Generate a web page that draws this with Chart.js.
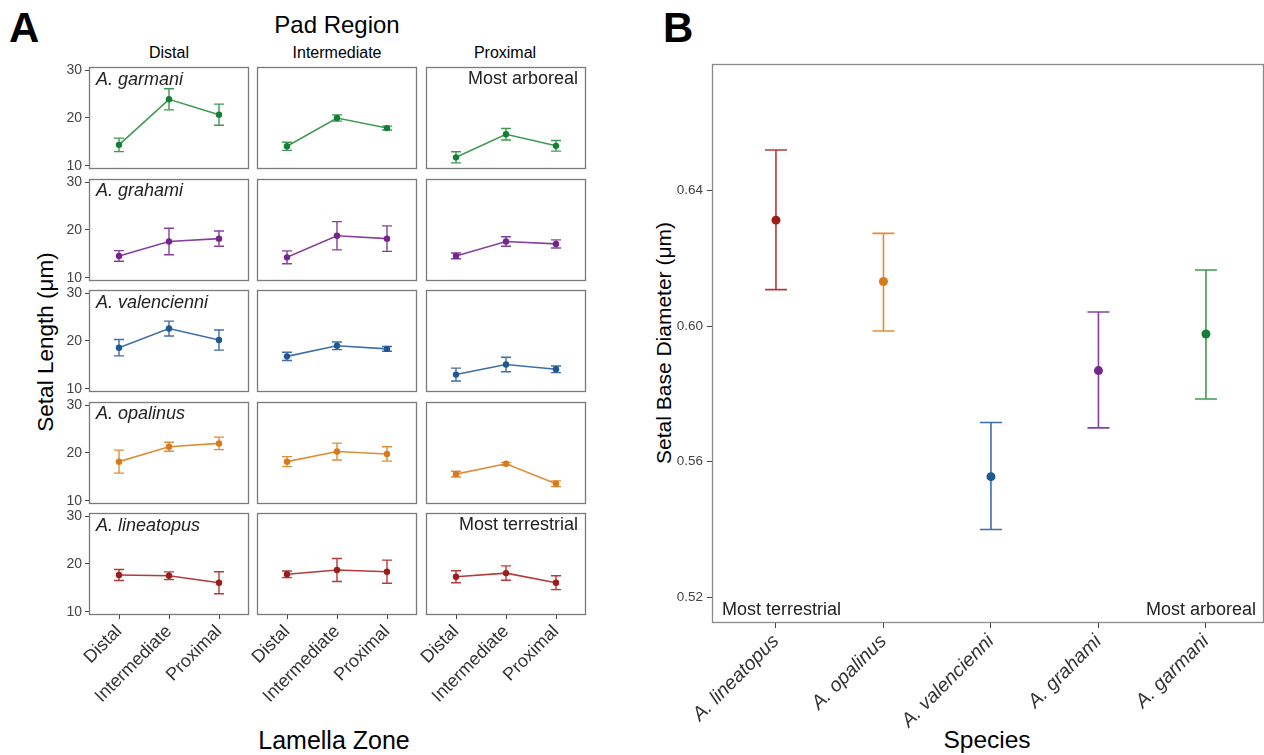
<!DOCTYPE html>
<html lang="en">
<head>
<meta charset="UTF-8">
<title>Setal length and setal base diameter</title>
<script src="https://cdn.jsdelivr.net/npm/chart.js"></script>
<style>
    body { margin: 0; width: 1264px; height: 755px; position: relative; overflow: hidden; background: #fff;
           font-family: "Liberation Sans", Arial, sans-serif; }
    canvas { position: absolute; }
    .txt { position: absolute; white-space: nowrap; line-height: 1; color: #000; }
    .c { transform: translate(-50%, -50%); }
    .v { transform: translate(-50%, -50%) rotate(-90deg); }
</style>
</head>
<body>

<div class="txt" style="left:9px; top:7px; font-size:42px; font-weight:bold;">A</div>
<div class="txt" style="left:663px; top:7px; font-size:42px; font-weight:bold;">B</div>
<div class="txt c" style="left:337px; top:25px; font-size:24px;">Pad Region</div>
<div class="txt c" style="left:169px; top:53px; font-size:16px;">Distal</div>
<div class="txt c" style="left:337px; top:53px; font-size:16px;">Intermediate</div>
<div class="txt c" style="left:505px; top:53px; font-size:16px;">Proximal</div>
<div class="txt v" style="left:46px; top:342px; font-size:22.5px;">Setal Length (μm)</div>
<div class="txt c" style="left:334px; top:740px; font-size:25px;">Lamella Zone</div>
<div class="txt v" style="left:663px; top:343px; font-size:21px;">Setal Base Diameter (μm)</div>
<div class="txt c" style="left:987px; top:740px; font-size:24.5px;">Species</div>

<script>
    // ---- data ----
    const zones = ['Distal', 'Intermediate', 'Proximal'];
    const padRegions = ['Distal', 'Intermediate', 'Proximal'];
    const speciesA = ['A. garmani', 'A. grahami', 'A. valencienni', 'A. opalinus', 'A. lineatopus'];
    const lengthTicks = [10, 20, 30];

    // setal length (um): one row per pad region, one value per lamella zone
    const garmaniLen = [[14.4, 23.9, 20.7], [14.1, 20.0, 17.9], [11.8, 16.6, 14.2]];
    const garmaniErr = [[1.4, 2.2, 2.2], [0.85, 0.65, 0.4], [1.15, 1.2, 1.1]];
    const grahamiLen = [[14.6, 17.6, 18.2], [14.3, 18.8, 18.2], [14.6, 17.6, 17.1]];
    const grahamiErr = [[1.1, 2.75, 1.6], [1.35, 2.95, 2.65], [0.6, 1.0, 0.85]];
    const valencienniLen = [[18.6, 22.6, 20.2], [16.8, 19.0, 18.35], [13.0, 15.1, 14.1]];
    const valencienniErr = [[1.7, 1.55, 2.1], [0.85, 0.8, 0.5], [1.35, 1.5, 0.7]];
    const opalinusLen = [[18.2, 21.3, 22.0], [18.2, 20.3, 19.8], [15.6, 17.75, 13.6]];
    const opalinusErr = [[2.4, 0.95, 1.3], [1.05, 1.75, 1.5], [0.6, 0.3, 0.6]];
    const lineatopusLen = [[17.7, 17.55, 16.1], [17.85, 18.75, 18.4], [17.35, 18.1, 16.1]];
    const lineatopusErr = [[1.15, 0.8, 2.3], [0.7, 2.4, 2.4], [1.25, 1.5, 1.45]];

    // setal base diameter (um)
    const speciesB = ['A. lineatopus', 'A. opalinus', 'A. valencienni', 'A. grahami', 'A. garmani'];
    const diameterMean = [0.6313, 0.6132, 0.5556, 0.5869, 0.5977];
    const diameterLow = [0.6108, 0.5986, 0.5400, 0.5700, 0.5785];
    const diameterHigh = [0.6520, 0.6274, 0.5716, 0.6042, 0.6166];
    const diameterTicks = [0.52, 0.56, 0.60, 0.64];

    // ---- style ----
    const dark = {'A. garmani': '#167d37', 'A. grahami': '#74268a', 'A. valencienni': '#1d5796',
                  'A. opalinus': '#d77a1b', 'A. lineatopus': '#9c1b1b'};
    const light = {'A. garmani': '#3f9b52', 'A. grahami': '#8641a0', 'A. valencienni': '#406ea8',
                   'A. opalinus': '#df8e38', 'A. lineatopus': '#b53a3a'};
    const font = '"Liberation Sans", Arial, sans-serif';
    Chart.defaults.font.family = font;
    Chart.defaults.animation = false;

    const colX = [89, 257, 426];
    const rowY = [67, 178.5, 290, 401.5, 513];
    const boxW = 160, boxH = 102;
    const pad = {left: 55, top: 10, right: 4, bottom: 4};

    const panelBox = {
        id: 'panelBox',
        afterDraw(chart, args, opts) {
            const {ctx, chartArea: a} = chart;
            ctx.save();
            ctx.strokeStyle = opts.color;
            ctx.lineWidth = opts.width;
            ctx.strokeRect(a.left + 0.5, a.top + 0.5, a.right - a.left - 1, a.bottom - a.top - 1);
            ctx.restore();
        }
    };

    const errorBars = {
        id: 'errorBars',
        beforeDatasetsDraw(chart, args, opts) {
            const {ctx, scales: {x, y}} = chart;
            ctx.save();
            ctx.lineWidth = opts.width;
            opts.low.forEach((lo, i) => {
                const px = x.getPixelForValue(i);
                const y1 = y.getPixelForValue(lo);
                const y2 = y.getPixelForValue(opts.high[i]);
                ctx.strokeStyle = Array.isArray(opts.color) ? opts.color[i] : opts.color;
                ctx.beginPath();
                ctx.moveTo(px, y1); ctx.lineTo(px, y2);
                ctx.moveTo(px - opts.cap, y1); ctx.lineTo(px + opts.cap, y1);
                ctx.moveTo(px - opts.cap, y2); ctx.lineTo(px + opts.cap, y2);
                ctx.stroke();
            });
            ctx.restore();
        }
    };

    function addCanvas(left, top, w, h) {
        const cv = document.createElement('canvas');
        cv.width = w; cv.height = h;
        cv.style.left = left + 'px'; cv.style.top = top + 'px';
        cv.style.width = w + 'px'; cv.style.height = h + 'px';
        document.body.appendChild(cv);
        return cv;
    }

    function addText(text, css) {
        const d = document.createElement('div');
        d.className = 'txt';
        d.textContent = text;
        d.style.cssText = css;
        document.body.appendChild(d);
    }

    const lenData = [garmaniLen, grahamiLen, valencienniLen, opalinusLen, lineatopusLen];
    const errData = [garmaniErr, grahamiErr, valencienniErr, opalinusErr, lineatopusErr];

    // Panel A: 5 species x 3 pad regions
    speciesA.forEach((sp, r) => {
        padRegions.forEach((reg, c) => {
            const showY = c === 0, showX = r === 4;
            const yW = showY ? 30 : 0, xH = showX ? 100 : 0;
            const cv = addCanvas(colX[c] - yW - pad.left, rowY[r] - pad.top,
                                 boxW + yW + pad.left + pad.right, boxH + xH + pad.top + pad.bottom);
            const means = lenData[r][c], errs = errData[r][c];
            new Chart(cv.getContext('2d'), {
                type: 'line',
                data: {
                    datasets: [{
                        data: means.map((m, i) => ({x: i, y: m})),
                        borderColor: light[sp],
                        borderWidth: 1.6,
                        pointRadius: 3.2,
                        pointBackgroundColor: dark[sp],
                        pointBorderWidth: 0,
                        tension: 0
                    }]
                },
                options: {
                    responsive: false,
                    layout: {padding: pad, autoPadding: false},
                    plugins: {
                        legend: {display: false},
                        tooltip: {enabled: false},
                        panelBox: {color: '#7a7a7a', width: 1.3},
                        errorBars: {low: means.map((m, i) => m - errs[i]), high: means.map((m, i) => m + errs[i]),
                                    color: light[sp], width: 1.4, cap: 5}
                    },
                    scales: {
                        x: {
                            type: 'linear', min: -0.6, max: 2.6, display: showX,
                            afterBuildTicks: s => { s.ticks = zones.map((z, i) => ({value: i})); },
                            afterFit: s => { s.height = xH; s.paddingLeft = 0; s.paddingRight = 0; },
                            border: {display: false},
                            grid: {drawOnChartArea: false, drawTicks: true, tickLength: 4, color: '#444'},
                            ticks: {callback: v => zones[v], minRotation: 45, maxRotation: 45, autoSkip: false,
                                    color: '#333', padding: 2, font: {size: 18}}
                        },
                        y: {
                            type: 'linear', min: 9.37, max: 30.63, display: showY,
                            afterBuildTicks: s => { s.ticks = lengthTicks.map(v => ({value: v})); },
                            afterFit: s => { s.width = yW; s.paddingTop = 0; s.paddingBottom = 0; },
                            border: {display: false},
                            grid: {drawOnChartArea: false, drawTicks: true, tickLength: 4, color: '#444'},
                            ticks: {color: '#444', padding: 3, font: {size: 14}}
                        }
                    }
                },
                plugins: [panelBox, errorBars]
            });
        });
        // species name inside the Distal column panel
        addText(sp, `left:${colX[0] + 7}px; top:${rowY[r] + 2.5}px; font-size:18px; font-style:italic; color:#222;`);
    });

    addText('Most arboreal', 'right:686px; top:69px; font-size:18px; color:#222;');
    addText('Most terrestrial', 'right:686px; top:515px; font-size:18px; color:#222;');

    // Panel B: setal base diameter by species
    const cvB = addCanvas(640, 54, 624, 701);
    new Chart(cvB.getContext('2d'), {
        type: 'scatter',
        data: {
            datasets: [{
                data: diameterMean.map((m, i) => ({x: i, y: m})),
                pointRadius: 4.5,
                pointBackgroundColor: speciesB.map(s => dark[s]),
                pointBorderWidth: 0
            }]
        },
        options: {
            responsive: false,
            layout: {padding: {top: 10, left: 0, right: 0, bottom: 0}, autoPadding: false},
            plugins: {
                legend: {display: false},
                tooltip: {enabled: false},
                panelBox: {color: '#8a8a8a', width: 1.3},
                errorBars: {low: diameterLow, high: diameterHigh, color: speciesB.map(s => light[s]), width: 1.6, cap: 11}
            },
            scales: {
                x: {
                    type: 'linear', min: -0.595, max: 4.54,
                    afterBuildTicks: s => { s.ticks = speciesB.map((z, i) => ({value: i})); },
                    afterFit: s => { s.height = 132; s.paddingLeft = 0; s.paddingRight = 0; },
                    border: {display: false},
                    grid: {drawOnChartArea: false, drawTicks: true, tickLength: 5, color: '#444'},
                    ticks: {callback: v => speciesB[v], minRotation: 45, maxRotation: 45, autoSkip: false,
                            color: '#333', padding: 2, font: {size: 19.5, style: 'italic'}}
                },
                y: {
                    type: 'linear', min: 0.5124, max: 0.6774,
                    afterBuildTicks: s => { s.ticks = diameterTicks.map(v => ({value: v})); },
                    afterFit: s => { s.width = 72; s.paddingTop = 0; s.paddingBottom = 0; },
                    border: {display: false},
                    grid: {drawOnChartArea: false, drawTicks: true, tickLength: 5, color: '#444'},
                    ticks: {callback: v => v.toFixed(2), color: '#444', padding: 4, font: {size: 13.5}}
                }
            }
        },
        plugins: [panelBox, errorBars]
    });

    addText('Most terrestrial', 'left:722px; top:600px; font-size:18px; color:#222;');
    addText('Most arboreal', 'right:8px; top:600px; font-size:18px; color:#222;');
</script>
</body>
</html>
